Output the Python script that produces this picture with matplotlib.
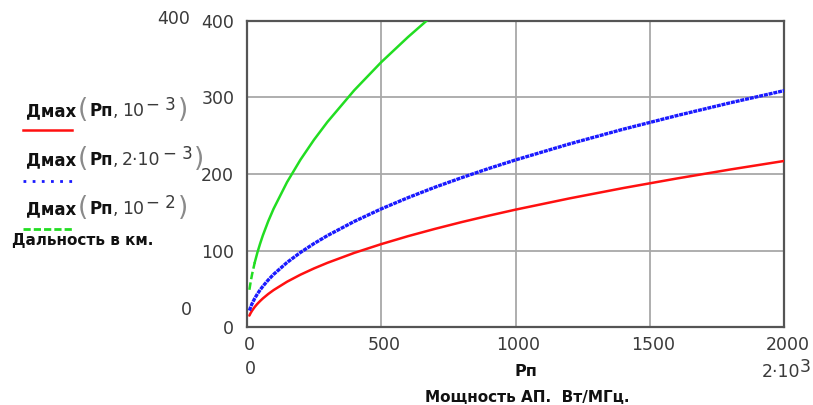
import matplotlib
matplotlib.use("Agg")
import matplotlib.pyplot as plt
from matplotlib.lines import Line2D
from matplotlib.transforms import ScaledTranslation

# Transmit power density Pп, W/MHz
power = [10, 15, 20, 30, 40, 50, 60, 80, 100, 150, 200, 250, 300, 400, 500,
         600, 700, 800, 900, 1000, 1200, 1400, 1600, 1800, 2000]
# Range (km) for parameter 1e-3
range_1e3 = [15.3, 18.8, 21.7, 26.6, 30.7, 34.3, 37.6, 43.4, 48.5, 59.4, 68.6,
             76.7, 84.0, 97.0, 108.4, 118.8, 128.3, 137.2, 145.5, 153.4, 168.0,
             181.5, 194.0, 205.8, 216.9]
# Range (km) for parameter 2e-3
range_2e3 = [21.8, 26.7, 30.9, 37.8, 43.6, 48.8, 53.4, 61.7, 69.0, 84.5, 97.6,
             109.1, 119.5, 138.0, 154.3, 169.0, 182.6, 195.1, 207.0, 218.2,
             239.0, 258.2, 276.0, 292.8, 308.6]
# Range (km) for parameter 1e-2
power_g = [10, 15, 20, 30, 40, 50, 60, 80, 100, 150, 200, 250, 300, 400, 500,
           600, 670]
range_1e2 = [48.9, 59.8, 69.1, 84.6, 97.7, 109.2, 119.7, 138.2, 154.5, 189.2,
             218.5, 244.3, 267.6, 309.0, 345.5, 378.4, 399.9]

x_ticks = [0, 500, 1000, 1500, 2000]
y_ticks = [0, 100, 200, 300, 400]

W, H = 813, 405
fig = plt.figure(figsize=(W / 100, H / 100), dpi=100)


def fx(x):
    return x / W


def fy(y):
    return 1 - y / H


L, R, T, B = 246.7, 784.3, 20.5, 327.3
ax = fig.add_axes([fx(L), fy(B), fx(R - L), (B - T) / H])
ax.set_xlim(0, 2000)
ax.set_ylim(0, 400)

TXT = "#3a3a3a"
GRID = "#a8a8a8"

ax.set_xticks(x_ticks)
ax.set_yticks(y_ticks)
ax.set_xticklabels([str(v) for v in x_ticks])
ax.set_yticklabels([str(v) for v in y_ticks])
ax.tick_params(length=0, labelsize=12.5, labelcolor=TXT)
ax.tick_params(axis="x", pad=6)
ax.tick_params(axis="y", pad=9)
for lab in ax.get_xticklabels():
    lab.set_transform(lab.get_transform() + ScaledTranslation(3 / 100, 0, fig.dpi_scale_trans))

ax.grid(True, color=GRID, lw=1.3)
ax.set_axisbelow(True)
for s in ax.spines.values():
    s.set_color("#555555")
    s.set_linewidth(1.6)

# Curves
ax.plot(power, range_1e3, color="#ff1010", lw=1.8, solid_capstyle="round",
        solid_joinstyle="round", zorder=3)
ax.plot(power, range_2e3, color="#1a1aff", lw=2.4, linestyle=(0, (1.2, 0.25)), zorder=3)
ax.plot(power_g[:4], range_1e2[:4], color="#22dd22", lw=1.8,
        linestyle=(0, (3, 1.3)), zorder=3)
ax.plot(power_g[3:], range_1e2[3:], color="#22dd22", lw=1.8,
        solid_joinstyle="round", zorder=3)

# Axis limit labels
fig.text(fx(174), fy(19), "400", fontsize=12.5, color=TXT, ha="center", va="center")
fig.text(fx(186), fy(310), "0", fontsize=12.5, color=TXT, ha="center", va="center")
fig.text(fx(250), fy(369), "0", fontsize=12.5, color=TXT, ha="center", va="center")
fig.text(fx(781), fy(372), "2·10", fontsize=12.5, color=TXT, ha="center", va="center")
fig.text(fx(800), fy(367), "3", fontsize=12.5, color=TXT, ha="left", va="center")

# Axis titles
fig.text(fx(526), fy(371), "Рп", fontsize=11.5, fontweight="bold", color="#111111",
         ha="center", va="center")
fig.text(fx(527), fy(397), "Мощность АП.  Вт/МГц.", fontsize=11, fontweight="bold",
         color="#111111", ha="center", va="center")


def right_px(artist):
    fig.canvas.draw()
    return artist.get_window_extent().x1


# Legend block
def legend_entry(yc, coef, exp, yline, style, color, lw):
    fig.text(fx(26), fy(yc), "Дмах", fontsize=12, fontweight="bold", color="#111111",
             ha="left", va="center")
    fig.text(fx(78), fy(yc - 1), "(", fontsize=19, color="#8a8a8a", ha="left",
             va="center")
    fig.text(fx(89), fy(yc), "Рп", fontsize=12, fontweight="bold", color="#111111",
             ha="left", va="center")
    fig.text(fx(113), fy(yc), ",", fontsize=12, color=TXT, ha="left", va="center")
    t = fig.text(fx(122), fy(yc), coef, fontsize=12.5, color=TXT, ha="left",
                 va="center")
    t2 = fig.text(fx(right_px(t) + 2), fy(yc - 6), "− " + exp,
                  fontsize=12, color=TXT, ha="left", va="center")
    fig.text(fx(right_px(t2) + 2), fy(yc - 1), ")", fontsize=19, color="#8a8a8a",
             ha="left", va="center")
    fig.add_artist(Line2D([fx(23), fx(72)], [fy(yline), fy(yline)], color=color,
                          lw=lw, linestyle=style, transform=fig.transFigure))


legend_entry(111, "10", "3", 130, "-", "#ff1010", 1.8)
legend_entry(160, "2·10", "3", 181, (0, (1, 2.3)), "#1a1aff", 2.0)
legend_entry(209, "10", "2", 229, (0, (2.6, 1.1)), "#22dd22", 2.0)
fig.text(fx(12), fy(240), "Дальность в км.", fontsize=11, fontweight="bold",
         color="#111111", ha="left", va="center")

fig.savefig("out.png", dpi=100)
